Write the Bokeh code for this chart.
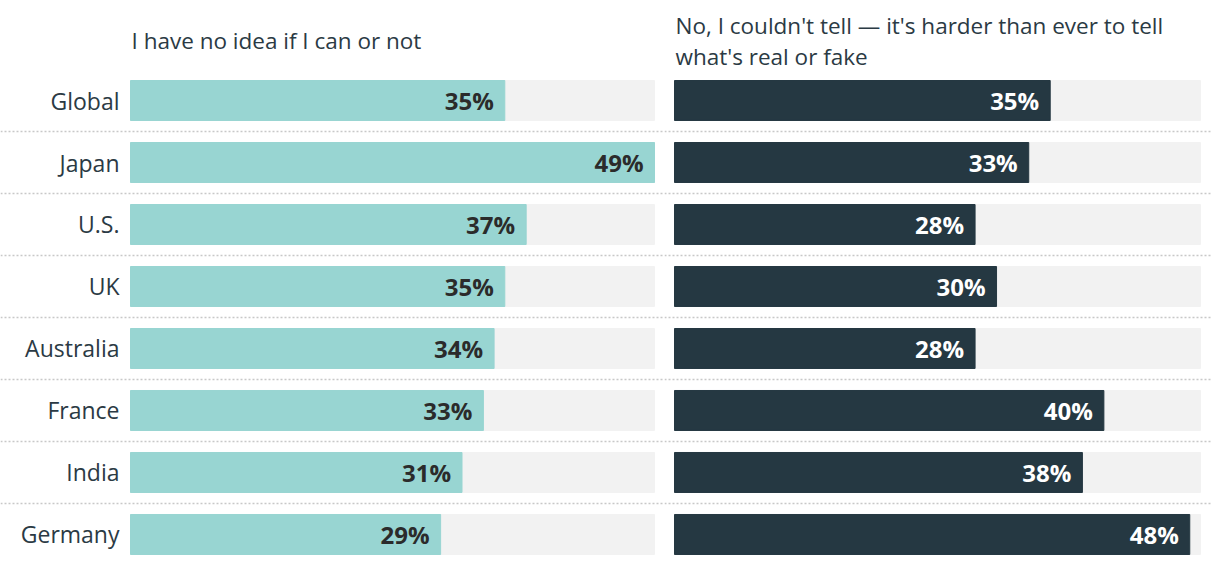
from bokeh.plotting import figure
from bokeh.layouts import row
from bokeh.models import Range1d, ColumnDataSource
from bokeh.core.properties import value
from bokeh.embed import file_html
from bokeh.resources import INLINE

categories = ["Global", "Japan", "U.S.", "UK", "Australia", "France", "India", "Germany"]
no_idea = [35, 49, 37, 35, 34, 33, 31, 29]
couldnt_tell = [35, 33, 28, 30, 28, 40, 38, 48]
title_left = "I have no idea if I can or not"
title_right = "No, I couldn't tell \u2014 it's harder than ever to tell\nwhat's real or fake"

FONT = "Open Sans"
TEAL = "#98D5D2"
DARK = "#253842"
TRACK = "#F2F2F2"
TEXT = "#2B3A44"

vmax = max(no_idea + couldnt_tell)
idx = list(range(len(categories)))
H = 556
y_range = Range1d(start=7.355, end=-1.613)


def make_panel(vals, color, label_color, width, border_l, border_r, title, show_cats, title_y):
    px_per = (width - border_l - border_r) / vmax
    x_range = Range1d(start=-border_l / px_per, end=vmax + border_r / px_per)
    p = figure(width=width, height=H, x_range=x_range, y_range=y_range,
               output_backend="svg", toolbar_location=None,
               min_border=0, outline_line_color=None)
    p.axis.visible = False
    p.grid.visible = False
    src = ColumnDataSource(dict(y=idx, v=vals, cat=categories,
                                lab=[f"{v}%" for v in vals],
                                track=[vmax] * len(vals)))
    p.hspan(y=[i + 0.5 for i in idx[:-1]], line_color="#C8C8C8",
            line_width=1.5, line_dash="2 2")
    p.hbar(y="y", left=0, right="track", height=0.645, color=TRACK, source=src)
    p.hbar(y="y", left=0, right="v", height=0.645, color=color, source=src)
    p.text(x="v", y="y", text="lab", source=src, text_align="right",
           text_baseline="middle", x_offset=-11, text_color=label_color,
           text_font=value(FONT), text_font_size="24px", text_font_style="bold")
    if show_cats:
        p.text(x=0, y="y", text="cat", source=src, text_align="right",
               text_baseline="middle", x_offset=-11, text_color=TEXT,
               text_font=value(FONT), text_font_size="23px")
    p.text(x=[0], y=[title_y], text=[title], text_align="left",
           text_baseline="middle", x_offset=1, text_color=TEXT,
           text_font=value(FONT), text_font_size="22.5px", text_line_height=0.98)
    return p


p1 = make_panel(no_idea, TEAL, "#2B2B2B", 664, 130, 10, title_left, True, -0.965)
p2 = make_panel(couldnt_tell, DARK, "#FFFFFF", 548, 10, 12, title_right, False, -0.96)

layout = row(p1, p2)
open("out.html", "w").write(file_html(layout, INLINE))
